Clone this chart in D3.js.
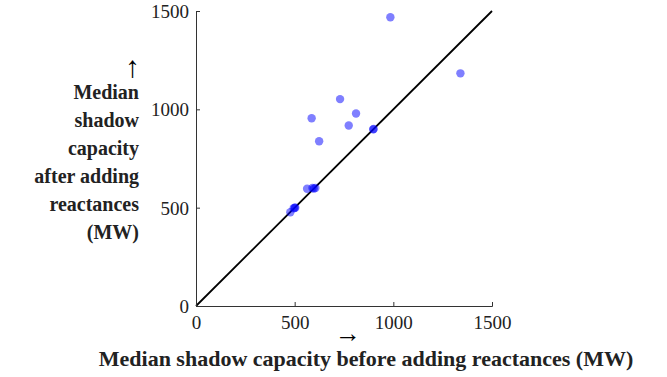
<!DOCTYPE html>
<html>
<head>
<meta charset="utf-8">
<script src="https://cdn.jsdelivr.net/npm/d3@7"></script>
<style>
  body { margin: 0; background: #fff; }
  svg { display: block; }
</style>
</head>
<body>
<div id="chart"></div>
<script>
// median shadow capacity (MW): before vs after adding reactances
const beforeMW = [985, 1340, 730, 811, 586, 774, 898, 900, 624, 563, 590, 597, 605, 495, 500, 503, 478];
const afterMW  = [1468, 1183, 1052, 979, 955, 918, 898, 900, 838, 596, 600, 597, 600, 497, 500, 500, 477];
const tickValues = [0, 500, 1000, 1500];
const yLabelLines = ["Median", "shadow", "capacity", "after adding", "reactances", "(MW)"];
const xLabel = "Median shadow capacity before adding reactances (MW)";

const W = 667, H = 377;
const margin = { left: 196, top: 11, right: 175, bottom: 71 };
const serif = "Liberation Serif";

const svg = d3.select("#chart").append("svg")
  .attr("width", W).attr("height", H)
  .attr("font-family", serif);

const x = d3.scaleLinear().domain([0, 1500]).range([margin.left, W - margin.right]);
const y = d3.scaleLinear().domain([0, 1500]).range([H - margin.bottom, margin.top]);

const points = beforeMW.map((b, i) => ({ b, a: afterMW[i] }));

// diagonal y = x
svg.append("line")
  .attr("x1", x(0)).attr("y1", y(0))
  .attr("x2", x(1500)).attr("y2", y(1500))
  .attr("stroke", "#000").attr("stroke-width", 1.8);

// points
svg.selectAll(".pt")
  .data(points)
  .enter()
  .append("circle")
  .attr("class", "pt")
  .attr("cx", d => x(d.b))
  .attr("cy", d => y(d.a))
  .attr("r", 4.2)
  .attr("fill", "#0000ff")
  .attr("fill-opacity", 0.5);

// axes, ticks pointing inward
const xAxis = svg.append("g")
  .attr("transform", `translate(0,${y(0)})`)
  .call(d3.axisBottom(x).tickValues(tickValues).tickSize(-4).tickPadding(9).tickFormat(d3.format("d")));
const yAxis = svg.append("g")
  .attr("transform", `translate(${x(0)},0)`)
  .call(d3.axisLeft(y).tickValues(tickValues).tickSize(-4).tickPadding(7).tickFormat(d3.format("d")));

[xAxis, yAxis].forEach(g => {
  g.attr("font-family", serif).attr("font-size", 19);
  g.select(".domain").attr("stroke", "#333").attr("stroke-width", 1);
  g.selectAll(".tick line").attr("stroke", "#333");
  g.selectAll(".tick text").attr("fill", "#222");
});
xAxis.selectAll(".tick text").attr("dy", "0.75em");
yAxis.selectAll(".tick text").attr("dy", "0.34em");

// x label
svg.append("text")
  .attr("x", 335).attr("y", 342)
  .attr("font-size", 26).attr("fill", "#000")
  .attr("textLength", 26).attr("lengthAdjust", "spacingAndGlyphs")
  .text("\u2192");
svg.append("text")
  .attr("x", 366).attr("y", 366)
  .attr("text-anchor", "middle")
  .attr("font-size", 22).attr("font-weight", "bold").attr("fill", "#222")
  .text(xLabel);

// y label
svg.append("text")
  .attr("x", 140).attr("y", 77)
  .attr("text-anchor", "end")
  .attr("font-size", 30).attr("fill", "#000")
  .text("\u2191");
svg.selectAll(".ylab")
  .data(yLabelLines)
  .enter()
  .append("text")
  .attr("class", "ylab")
  .attr("x", 139)
  .attr("y", (d, i) => 99 + i * 28)
  .attr("text-anchor", "end")
  .attr("font-size", 20).attr("font-weight", "bold").attr("fill", "#222")
  .text(d => d);
</script>
</body>
</html>
